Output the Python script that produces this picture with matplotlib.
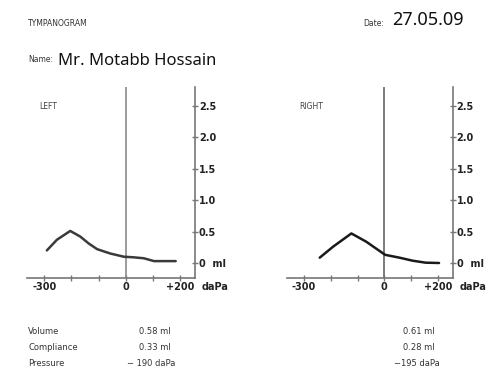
import matplotlib
matplotlib.use("Agg")
import matplotlib.pyplot as plt
from matplotlib import font_manager

names = {f.name for f in font_manager.fontManager.ttflist}
COND = "Liberation Sans Narrow" if "Liberation Sans Narrow" in names else "DejaVu Sans"
HAND = "Noto Sans"

# ---- data ----
left_pressure = [-290, -253, -204, -167, -136, -105, -56, -7, 30, 67, 104, 184]
left_volume = [0.20, 0.37, 0.51, 0.42, 0.31, 0.22, 0.15, 0.10, 0.09, 0.075, 0.03, 0.03]
right_pressure = [-241, -191, -123, -68, 3, 56, 105, 154, 204]
right_volume = [0.085, 0.26, 0.47, 0.34, 0.13, 0.085, 0.037, 0.005, 0.0]

x_ticks = [-300, -200, -100, 0, 100, 200]
x_tick_labels = ["-300", "", "", "0", "", "+200"]
y_ticks = [0, 0.5, 1.0, 1.5, 2.0, 2.5]
y_tick_labels = ["0  ml", "0.5", "1.0", "1.5", "2.0", "2.5"]

stat_names = ["Volume", "Compliance", "Pressure"]
left_stats = ["0.58 ml", "0.33 ml", "\u2212 190 daPa"]
right_stats = ["0.61 ml", "0.28 ml", "\u2212195 daPa"]

W, H = 490, 381
fig = plt.figure(figsize=(W / 100, H / 100), dpi=100)
fig.patch.set_facecolor("white")

def px(x, y):
    return x / W, 1 - y / H

def make_axes(x0, x1, title, xs, ys, line_col, zero_col):
    top, bot = 87, 277.7
    ax = fig.add_axes([x0 / W, 1 - bot / H, (x1 - x0) / W, (bot - top) / H])
    ax.set_xlim(-362, 255)
    ax.set_ylim(-0.234, 2.80)
    for s in ["top", "left"]:
        ax.spines[s].set_visible(False)
    for s in ["bottom", "right"]:
        ax.spines[s].set_color("#777777")
        ax.spines[s].set_linewidth(1.2)
    ax.yaxis.tick_right()
    ax.set_xticks(x_ticks)
    ax.set_xticklabels(x_tick_labels)
    ax.set_yticks(y_ticks)
    ax.set_yticklabels(y_tick_labels)
    ax.tick_params(axis="both", direction="inout", length=4.5, width=1.0, color="#777777",
                   labelsize=7, pad=0.5)
    for lab in ax.get_xticklabels() + ax.get_yticklabels():
        lab.set_fontfamily(COND)
        lab.set_fontweight("bold")
        lab.set_color("#222222")
    ax.axvline(0, color=zero_col, lw=1.2)
    ax.plot(xs, ys, color=line_col, lw=1.8, solid_capstyle="round")
    ax.text(1.04, -0.05, "daPa", transform=ax.transAxes, fontfamily=COND,
            fontweight="bold", fontsize=7, color="#222222", ha="left", va="center")
    ax.text(0.07, 0.9, title, transform=ax.transAxes, fontfamily=COND,
            fontsize=5.5, color="#444444", ha="left", va="center")
    ax.patch.set_alpha(0)
    return ax

make_axes(27.3, 195, "LEFT", left_pressure, left_volume, "#3a3a3a", "#8a8a8a")
make_axes(287.3, 452.7, "RIGHT", right_pressure, right_volume, "#1a1a1a", "#666666")

# header
fig.text(*px(28, 23), "TYMPANOGRAM", fontfamily=COND, fontsize=5.5, color="#333333",
         ha="left", va="center")
fig.text(*px(363, 23), "Date:", fontfamily=COND, fontsize=5.5, color="#333333",
         ha="left", va="center")
fig.text(*px(392, 20), "27.05.09", fontfamily=HAND, fontsize=13, color="#111111",
         ha="left", va="center")
fig.text(*px(28, 60), "Name:", fontfamily=COND, fontsize=5.5, color="#333333",
         ha="left", va="center")
fig.text(*px(58, 61), "Mr. Motabb Hossain", fontfamily=HAND, fontsize=12, color="#111111",
         ha="left", va="center")

# stats
rows_y = [332, 348, 363]
for name, ls, rs, yy in zip(stat_names, left_stats, right_stats, rows_y):
    fig.text(*px(28, yy), name, fontfamily=COND, fontsize=6, color="#333333",
             ha="left", va="center")
    fig.text(*px(127 if ls.startswith("\u2212") else 139, yy), ls, fontfamily=COND,
             fontsize=6, color="#333333", ha="left", va="center")
    fig.text(*px(394 if rs.startswith("\u2212") else 403, yy), rs, fontfamily=COND,
             fontsize=6, color="#333333", ha="left", va="center")

fig.savefig("out.png", dpi=100, facecolor="white")
